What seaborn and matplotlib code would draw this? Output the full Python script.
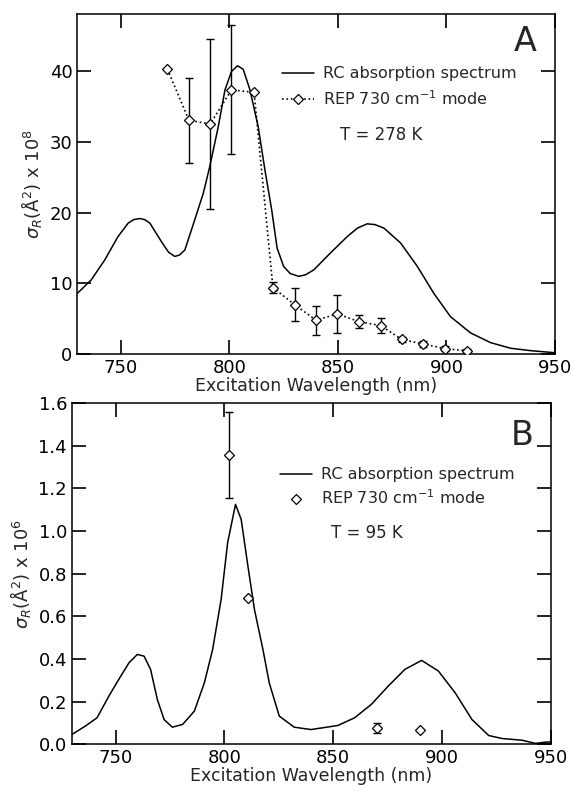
import numpy as np
import pandas as pd
import matplotlib
matplotlib.use("Agg")
import matplotlib.pyplot as plt
import seaborn as sns
from matplotlib.lines import Line2D

# ---------------- Panel A data (sigma_R x 10^8) ----------------
abs_a_x = [730, 736.4, 742.6, 748.7, 753.4, 756, 758.7, 761, 763.4, 768.7, 772, 774.9, 777,
           779.5, 784.1, 788, 791, 794.9, 798, 801, 803.8, 806.4, 809.5, 813.3, 816.4, 819.5,
           822, 825, 828, 831.9, 835, 838.9, 846.6, 854.3, 859, 863.5, 867, 871.2, 878.9,
           886.6, 894.2, 901.9, 911.2, 920.4, 929.6, 938.9, 949.6]
abs_a_y = [8.6, 10.5, 13.3, 16.6, 18.5, 19.0, 19.15, 19.0, 18.5, 15.9, 14.4, 13.8, 14.0,
           14.7, 19.0, 22.7, 26.5, 32.1, 37.3, 39.9, 40.7, 40.2, 37.3, 32.1, 26.0, 20.4,
           15.0, 12.4, 11.4, 11.0, 11.2, 11.9, 14.3, 16.6, 17.8, 18.4, 18.3, 17.8, 15.7,
           12.4, 8.6, 5.3, 3.0, 1.64, 0.85, 0.51, 0.23]

rep_a_x = [771.5, 781.4, 791.2, 801, 811.4, 820.1, 830.1, 840, 849.7, 859.8, 869.7, 879.4, 889.3, 899.3, 909.6]
rep_a_y = [40.2, 33.0, 32.5, 37.3, 36.95, 9.4, 7.0, 4.8, 5.7, 4.6, 4.05, 2.1, 1.45, 0.8, 0.5]
rep_a_err = [0.0, 5.95, 12.0, 9.1, 0.0, 0.8, 2.35, 2.05, 2.7, 0.95, 1.0, 0.4, 0.4, 0.3, 0.2]

# ---------------- Panel B data (sigma_R x 10^6) ----------------
abs_b_x = [730, 736.1, 741.5, 746.9, 751.5, 756.2, 760, 763.1, 766.1, 769.2, 772.3, 776.1,
           780.8, 786.2, 790.8, 794.6, 798.5, 801.5, 805.1, 807.7, 810.8, 813.8, 817.7,
           820.6, 825.2, 832.1, 839.8, 852.1, 859.8, 867.5, 875.2, 882.9, 890.6, 898.3,
           906, 913.7, 921.4, 927.5, 936.7, 942.9, 947.5, 950]
abs_b_y = [0.047, 0.086, 0.125, 0.226, 0.305, 0.383, 0.422, 0.414, 0.352, 0.211, 0.117, 0.081,
           0.094, 0.156, 0.289, 0.445, 0.68, 0.946, 1.125, 1.055, 0.836, 0.633, 0.445,
           0.289, 0.133, 0.081, 0.070, 0.089, 0.125, 0.188, 0.273, 0.352, 0.394, 0.344,
           0.242, 0.117, 0.042, 0.028, 0.02, 0.005, 0.011, 0.012]

rep_b_x = [802, 811, 870, 890]
rep_b_y = [1.356, 0.688, 0.078, 0.066]
rep_b_err = [0.203, 0.0, 0.022, 0.0]

xticks = [750, 800, 850, 900, 950]
yticks_a = [0, 10, 20, 30, 40]
yticks_b = [0.0, 0.2, 0.4, 0.6, 0.8, 1.0, 1.2, 1.4, 1.6]

sns.set_theme(style="ticks")
plt.rcParams['font.family'] = ['DejaVu Sans']
plt.rcParams['mathtext.fontset'] = 'dejavusans'

fig = plt.figure(figsize=(5.74, 7.91), dpi=100)
axA = fig.add_axes([0.1348, 0.5521, 0.832, 0.4302])
axB = fig.add_axes([0.1254, 0.0588, 0.8345, 0.4317])

def style(ax, ylim, yticks, fmt):
    ax.set_xlim(730, 950)
    ax.set_ylim(*ylim)
    ax.set_xticks(xticks)
    ax.set_yticks(yticks)
    ax.set_yticklabels([fmt.format(v) for v in yticks])
    ax.tick_params(direction='in', length=10, width=1.2, top=True, right=True,
                   labelsize=13, colors='black', pad=3.5)
    for s in ax.spines.values():
        s.set_linewidth(1.1)
        s.set_color('black')
    ax.set_xlabel('Excitation Wavelength (nm)', fontsize=12.5, labelpad=0)

mk = dict(marker='D', ms=5, mfc='white', mec='black', mew=0.9)

# ---- Panel A ----
dfa = pd.DataFrame({'x': abs_a_x, 'y': abs_a_y})
sns.lineplot(data=dfa, x='x', y='y', ax=axA, color='black', lw=1.1, estimator=None, sort=False)
axA.plot(rep_a_x, rep_a_y, ls=':', color='black', lw=1.2, zorder=3, **mk)
err_idx = [i for i, e in enumerate(rep_a_err) if e > 0]
axA.errorbar([rep_a_x[i] for i in err_idx], [rep_a_y[i] for i in err_idx],
             yerr=[rep_a_err[i] for i in err_idx], fmt='none', ecolor='black',
             elinewidth=1.0, capsize=3, capthick=1.0, zorder=2)
style(axA, (0, 48), yticks_a, '{:d}')
axA.set_ylabel(r'$\sigma_R$(Å$^2$) x 10$^8$', fontsize=13, labelpad=4)
hA = [Line2D([], [], color='black', lw=1.1),
      Line2D([], [], color='black', ls=':', lw=1.2, **mk)]
axA.legend(hA, ['RC absorption spectrum', r'REP 730 cm$^{-1}$ mode'], loc='center left',
           bbox_to_anchor=(0.428, 0.785), frameon=False, fontsize=11.5, handlelength=2.0,
           handletextpad=0.6, borderpad=0, borderaxespad=0, labelspacing=0.5)
axA.text(851, 30.9, 'T = 278 K', fontsize=12, va='center', ha='left')
axA.text(0.961, 0.968, 'A', transform=axA.transAxes, fontsize=24, ha='right', va='top')

# ---- Panel B ----
dfb = pd.DataFrame({'x': abs_b_x, 'y': abs_b_y})
sns.lineplot(data=dfb, x='x', y='y', ax=axB, color='black', lw=1.1, estimator=None, sort=False)
axB.plot(rep_b_x, rep_b_y, ls='none', zorder=3, **mk)
err_idx = [i for i, e in enumerate(rep_b_err) if e > 0]
axB.errorbar([rep_b_x[i] for i in err_idx], [rep_b_y[i] for i in err_idx],
             yerr=[rep_b_err[i] for i in err_idx], fmt='none', ecolor='black',
             elinewidth=1.0, capsize=3, capthick=1.0, zorder=2)
style(axB, (0, 1.6), yticks_b, '{:.1f}')
axB.set_ylabel(r'$\sigma_R$(Å$^2$) x 10$^6$', fontsize=13, labelpad=4)
hB = [Line2D([], [], color='black', lw=1.1),
      Line2D([], [], ls='none', **mk)]
axB.legend(hB, ['RC absorption spectrum', r'REP 730 cm$^{-1}$ mode'], loc='center left',
           bbox_to_anchor=(0.434, 0.753), frameon=False, fontsize=11.5, handlelength=2.0,
           handletextpad=0.6, borderpad=0, borderaxespad=0, labelspacing=0.4)
axB.text(849, 0.99, 'T = 95 K', fontsize=12, va='center', ha='left')
axB.text(0.963, 0.952, 'B', transform=axB.transAxes, fontsize=24, ha='right', va='top')

fig.savefig('out.png', dpi=100)
